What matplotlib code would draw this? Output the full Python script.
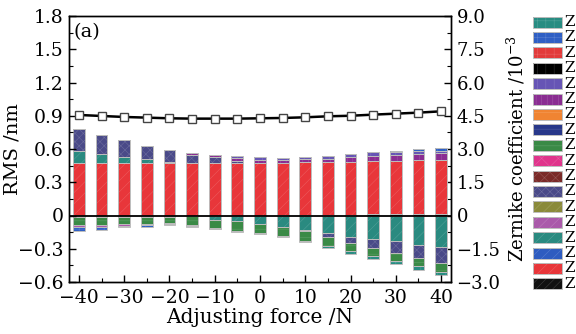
import matplotlib
matplotlib.use("Agg")
import matplotlib.pyplot as plt
import numpy as np
from matplotlib.patches import Rectangle
from matplotlib.ticker import MultipleLocator

plt.rcParams['font.family'] = ['DejaVu Serif']
plt.rcParams['mathtext.fontset'] = 'dejavuserif'
plt.rcParams['hatch.linewidth'] = 0.4

forces = [-40, -35, -30, -25, -20, -15, -10, -5, 0, 5, 10, 15, 20, 25, 30, 35, 40]
rms = [0.907, 0.898, 0.889, 0.883, 0.877, 0.874, 0.874, 0.874, 0.877, 0.880,
       0.886, 0.895, 0.900, 0.910, 0.919, 0.928, 0.940]

# Zernike coefficients (x1e-3)
z_black = [-0.09, -0.09, -0.08, -0.07, -0.05, -0.03, -0.02, -0.01, 0.0, 0.01, 0.02, 0.03, 0.04, 0.05, 0.06, 0.07, 0.08]
z_red = [2.36, 2.36, 2.36, 2.36, 2.36, 2.36, 2.36, 2.36, 2.37, 2.38, 2.38, 2.38, 2.39, 2.40, 2.41, 2.42, 2.425]
z_teal = [0.555, 0.435, 0.30, 0.18, 0.06, 0.0, -0.18, -0.26, -0.39, -0.54, -0.645, -0.80, -0.95, -1.05, -1.17, -1.31, -1.40]
z_slate = [0.98, 0.845, 0.74, 0.615, 0.525, 0.39, 0.30, 0.10, 0.0, 0.0, -0.075, -0.18, -0.28, -0.41, -0.51, -0.60, -0.73]
z_green = [-0.33, -0.33, -0.295, -0.32, -0.29, -0.39, -0.37, -0.41, -0.41, -0.38, -0.41, -0.39, -0.39, -0.37, -0.39, -0.38, -0.40]
z_purple = [0, 0, 0, 0, 0.02, 0.05, 0.07, 0.12, 0.13, 0.10, 0.14, 0.16, 0.19, 0.22, 0.24, 0.27, 0.30]
z_orchid = [-0.12, -0.09, -0.08, -0.05, -0.05, -0.04, -0.02, 0, 0, 0, 0, 0, 0, 0, 0, 0, 0]
z_slateblue = [0, 0, 0, 0, 0, 0, 0, 0.09, 0.12, 0.09, 0.115, 0.13, 0.155, 0.18, 0.16, 0.17, 0.11]
z_blue = [-0.15, -0.135, -0.085, -0.06, -0.06, -0.04, -0.03, -0.05, -0.02, 0, 0, 0, 0, 0, 0.04, 0.055, 0.135]
z_teal1 = [0, 0, 0, 0, 0, 0, 0, 0, -0.02, -0.035, -0.06, -0.08, -0.11, -0.12, -0.14, -0.15, -0.14]

legend_colors = ['#288c82', '#2f5fc4', '#e23b3b', '#000000', '#6655b5', '#8a2d92',
                 '#f08432', '#28388a', '#3a8a46', '#e0358c', '#7a2a28', '#4a4a88',
                 '#8a8a3a', '#aa5aaa', '#2a8a80', '#2e5cc0', '#e8363a', '#111111']
legend_hatches = ['++', '++', '++', '||', '||', '|||', '--', '--', '--', 'xx', 'xxx', 'xxxx',
                  '///', '///', '///', '///', '///', '////']
legend_labels = ['Z'] * 18

# stacking order: (values, legend index)
series = [(z_black, 17), (z_red, 16), (z_teal, 14), (z_slate, 11), (z_green, 8),
          (z_purple, 5), (z_orchid, 13), (z_slateblue, 4), (z_blue, 1), (z_teal1, 0)]


def lighten(c, f=0.3):
    rgb = np.array(matplotlib.colors.to_rgb(c))
    return tuple(rgb + (1 - rgb) * f)


W, H = 576, 334
fig = plt.figure(figsize=(W / 100, H / 100), dpi=100)
fig.patch.set_facecolor('white')
ax = fig.add_axes([69 / W, 1 - 282 / H, (451 - 69) / W, (282 - 16) / H])
ax2 = ax.twinx()

x = np.array(forces, dtype=float)
pos = np.zeros(len(x))
neg = np.zeros(len(x))
bw = 2.6
for vals, li in series:
    v = np.array(vals, dtype=float)
    bottom = np.where(v >= 0, pos, neg)
    col = legend_colors[li]
    ax2.bar(x, v, bw, bottom=bottom, color=col, edgecolor=lighten(col, 0.18),
            linewidth=0, hatch=legend_hatches[li], zorder=2)
    ax2.bar(x, v, bw, bottom=bottom, fill=False, edgecolor='#bcbcbc',
            linewidth=0.7, zorder=3)
    pos = pos + np.where(v >= 0, v, 0)
    neg = neg + np.where(v < 0, v, 0)

ax2.axhline(0, color='black', linewidth=1.3, zorder=4)

ax.plot(x, rms, color='black', linewidth=1.8, marker='s', markersize=5.5,
        markerfacecolor='white', markeredgecolor='#444444', markeredgewidth=1.0, zorder=5)

ax.set_xlim(-42.2, 42.2)
ax.set_ylim(-0.6, 1.8)
ax2.set_ylim(-3.0, 9.0)
ax.set_zorder(ax2.get_zorder() + 1)
ax.patch.set_visible(False)

ax.set_xticks([-40, -30, -20, -10, 0, 10, 20, 30, 40])
ax.xaxis.set_minor_locator(MultipleLocator(5))
ax.set_yticks([-0.6, -0.3, 0, 0.3, 0.6, 0.9, 1.2, 1.5, 1.8])
ax.set_yticklabels(['\u22120.6', '\u22120.3', '0', '0.3', '0.6', '0.9', '1.2', '1.5', '1.8'])
ax.yaxis.set_minor_locator(MultipleLocator(0.15))
ax.set_xticklabels(['\u221240', '\u221230', '\u221220', '\u221210', '0', '10', '20', '30', '40'])
ax2.set_yticks([-3.0, -1.5, 0, 1.5, 3.0, 4.5, 6.0, 7.5, 9.0])
ax2.set_yticklabels(['\u22123.0', '\u22121.5', '0', '1.5', '3.0', '4.5', '6.0', '7.5', '9.0'])
ax2.yaxis.set_minor_locator(MultipleLocator(0.75))

ax.tick_params(axis='both', which='both', direction='in', top=False, right=False,
               labelsize=13.5)
ax.tick_params(which='major', length=5, width=1)
ax.tick_params(which='minor', length=3, width=0.8)
ax.tick_params(axis='x', pad=5)
ax.tick_params(axis='y', pad=4)
ax2.tick_params(axis='y', which='both', direction='in', labelsize=13, pad=4)
ax2.tick_params(which='major', length=5, width=1)
ax2.tick_params(which='minor', length=3, width=0.8)

for a in (ax, ax2):
    for s in a.spines.values():
        s.set_linewidth(1.0)

ax.set_xlabel('Adjusting force /N', fontsize=14.5, labelpad=1)
ax.set_ylabel('RMS /nm', fontsize=14)
ax.yaxis.set_label_coords(-0.125, 0.5)
ax2.set_ylabel('Zernike coefficient /10$^{-3}$', fontsize=13)
ax2.yaxis.set_label_coords(1.142, 0.5)

ax.text(0.012, 0.975, '(a)', transform=ax.transAxes, fontsize=14, va='top', ha='left')

# legend drawn manually in figure coords
for i in range(18):
    yc = 22 + i * 15.4
    rect = Rectangle((533 / W, 1 - (yc + 5.5) / H), 29 / W, 11 / H, transform=fig.transFigure,
                     facecolor=legend_colors[i], edgecolor=lighten(legend_colors[i], 0.2),
                     linewidth=0, hatch=legend_hatches[i])
    fig.add_artist(rect)
    rect2 = Rectangle((533 / W, 1 - (yc + 5.5) / H), 29 / W, 11 / H, transform=fig.transFigure,
                      fill=False, edgecolor='#bcbcbc', linewidth=0.7)
    fig.add_artist(rect2)
    fig.text(564 / W, 1 - yc / H, legend_labels[i], fontsize=11, va='center', ha='left')

fig.savefig('out.png', dpi=100, facecolor='white')
